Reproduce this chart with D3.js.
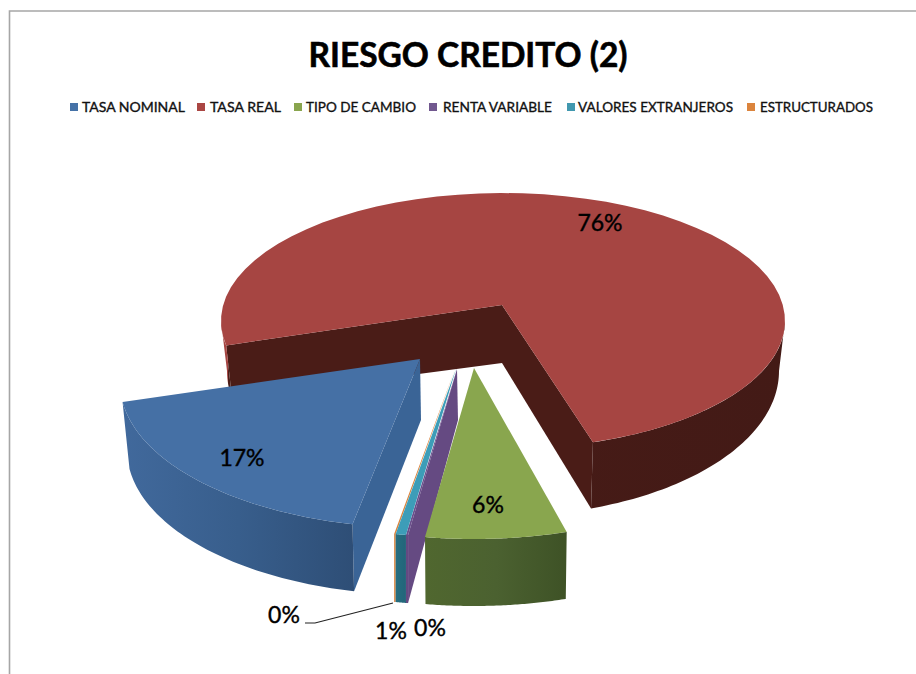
<!DOCTYPE html>
<html><head><meta charset="utf-8">
<script src="https://cdn.jsdelivr.net/npm/d3@7"></script>
<style>html,body{margin:0;padding:0;background:#fff}svg{display:block}</style>
</head><body><div id="chart"></div>
<script>
// ---- data ----
const categories = ["TASA NOMINAL","TASA REAL","TIPO DE CAMBIO","RENTA VARIABLE","VALORES EXTRANJEROS","ESTRUCTURADOS"];
const values = [16.8, 75.9, 6.1, 0.3, 0.7, 0.2];
const chartTitle = "RIESGO CREDITO (2)";

// ---- styles ----
const topColors = ["#4570a5","#a64542","#89a64e","#6b4f8c","#3d9db8","#db843d"];
const faceColors = ["#3a6496","#4a1c17","#4d6330","#654a82","#266e80","#c97a35"];
const legendColors = ["#4572a7","#aa4643","#89a54e","#71588f","#4198af","#db843d"];
const wallStops = [
  [[0,"#41699c"],[0.5,"#385e8c"],[1,"#2e4e76"]],
  [[0,"#a64542"],[0.012,"#a64542"],[0.013,"#4a1c17"],[1,"#431a16"]],
  [[0,"#50672f"],[0.5,"#4b6130"],[1,"#3e5226"]],
  [[0,"#654a82"],[1,"#654a82"]],
  [[0,"#266e80"],[1,"#23657a"]],
  [[0,"#db843d"],[1,"#db843d"]]
];
// ---- view: the picture's skewed 3D projection, one ellipse per exploded slice ----
// top rim [cx,cy,rx,ry], base rim, apex, base apex, rim angle (deg clockwise from north) at slice start and end
const topRims  = [[420,383,300,145],[503,321,282,128],[474,394,300,145],[456,392,300,145],[456,392,300,145],[456,392,300,145]];
const baseRims = [[420,450,293,145],[503,371,276,145],[474,461,297,145],[456,460,300,145],[456,460,300,145],[456,460,300,145]];
const apexes   = [[420,359],[502,305],[474,368],[457,369],[456,369],[455,369]];
const baseApex = [[421,420],[502,363],[474,420],[458,420],[457,420],[456,420]];
const rimStart = [193,259,162,189.2,189.6,191.6];
const rimEnd   = [262.5,521.4,189.4,189.6,191.6,191.9];
const faceAtStart = [true,true,false,true,false,false];
const faceAtEnd   = [false,true,false,false,false,false];
const drawOrder = [1,3,5,4,2,0];
const labelPos = [[242,458],[600,223],[488,505],[430,628],[391,631],[284,615]];
const legendSwatchX = [70,197,294,429,567,747];
const legendTextX = [82,210,306,443,578,760];
const legendTextW = [103,71,110,109,155,113];

const W = 916, H = 674;
const svg = d3.select("#chart").append("svg").attr("width",W).attr("height",H);
const defs = svg.append("defs");
const FONT = "Lato, 'Open Sans', sans-serif";

// frame
svg.append("path").attr("d",`M9.5,${H}V11H${W}`).attr("fill","none").attr("stroke","#a6a6a6").attr("stroke-width",1.6);

// title
svg.append("text").attr("x",468).attr("y",67).attr("text-anchor","middle")
  .attr("font-family",FONT).attr("font-weight",700).attr("font-size",34)
  .attr("textLength",319).attr("lengthAdjust","spacingAndGlyphs")
  .attr("fill","#000").attr("stroke","#000").attr("stroke-width",0.6).text(chartTitle);

// legend
const leg = svg.append("g").selectAll("g").data(categories).join("g");
leg.append("rect").attr("x",(d,i)=>legendSwatchX[i]).attr("y",103).attr("width",8).attr("height",8).attr("fill",(d,i)=>legendColors[i]);
leg.append("text").attr("x",(d,i)=>legendTextX[i]).attr("y",112)
  .attr("font-family",FONT).attr("font-size",14).attr("fill","#111").attr("stroke","#111").attr("stroke-width",0.35)
  .attr("textLength",(d,i)=>legendTextW[i]).attr("lengthAdjust","spacingAndGlyphs").text(d=>d);

// pie layout (data order, clockwise)
const pie = d3.pie().sort(null).value(d=>d)(values);
const deg = Math.PI/180;
const slices = pie.map((p,i)=>{
  const phi = d3.scaleLinear().domain([p.startAngle,p.endAngle]).range([rimStart[i],rimEnd[i]]);
  return {p,i,phi,a0:phi(p.startAngle),a1:phi(p.endAngle)};
});
const pt = (rim,a)=>[rim[0]+rim[2]*Math.sin(a*deg), rim[1]-rim[3]*Math.cos(a*deg)];
const samples = (a0,a1)=>d3.range(0,61).map(k=>a0+(a1-a0)*k/60);
const line = d3.line();

// wall gradients in user space across each slice's width
slices.forEach(s=>{
  const xs = samples(s.a0,s.a1).flatMap(a=>[pt(topRims[s.i],a)[0],pt(baseRims[s.i],a)[0]]);
  const g = defs.append("linearGradient").attr("id","wall"+s.i).attr("gradientUnits","userSpaceOnUse")
    .attr("x1",d3.min(xs)).attr("x2",d3.max(xs)).attr("y1",0).attr("y2",0);
  wallStops[s.i].forEach(st=>g.append("stop").attr("offset",st[0]).attr("stop-color",st[1]));
});

const layer = svg.append("g");
drawOrder.forEach(i=>{
  const s = slices[i], g = layer.append("g"), T = topRims[i], B = baseRims[i];
  const face = a => g.append("path")
    .attr("d",line([apexes[i],baseApex[i],pt(B,a),pt(T,a)])+"Z").attr("fill",faceColors[i]);
  if(faceAtEnd[i]) face(s.a1);
  if(faceAtStart[i]) face(s.a0);
  // outer wall: only the near half of the rim, 90..270 degrees and its turn-later copy
  [[90,270],[450,630]].forEach(([lo,hi])=>{
    const a0 = Math.max(s.a0,lo), a1 = Math.min(s.a1,hi);
    if(a1<=a0) return;
    const as = samples(a0,a1);
    const ring = as.map(a=>pt(T,a)).concat(as.slice().reverse().map(a=>pt(B,a)));
    g.append("path").attr("d",line(ring)+"Z").attr("fill",`url(#wall${i})`);
  });
  // top
  const top = [apexes[i]].concat(samples(s.a0,s.a1).map(a=>pt(T,a)));
  g.append("path").attr("d",line(top)+"Z").attr("fill",topColors[i]);
});

// leader line of the smallest slice
svg.append("path").attr("d",line([[305,623],[315,623],[393,603]])).attr("fill","none").attr("stroke","#222").attr("stroke-width",1.2);

// labels
const fmt = d3.format(".0%");
svg.append("g").selectAll("text").data(pie).join("text")
  .attr("x",(d,i)=>labelPos[i][0]).attr("y",(d,i)=>labelPos[i][1]+8)
  .attr("text-anchor","middle").attr("font-family",FONT).attr("font-size",23)
  .attr("fill","#000").attr("stroke","#000").attr("stroke-width",0.4)
  .text(d=>fmt(d.value/d3.sum(values)));
</script></body></html>
